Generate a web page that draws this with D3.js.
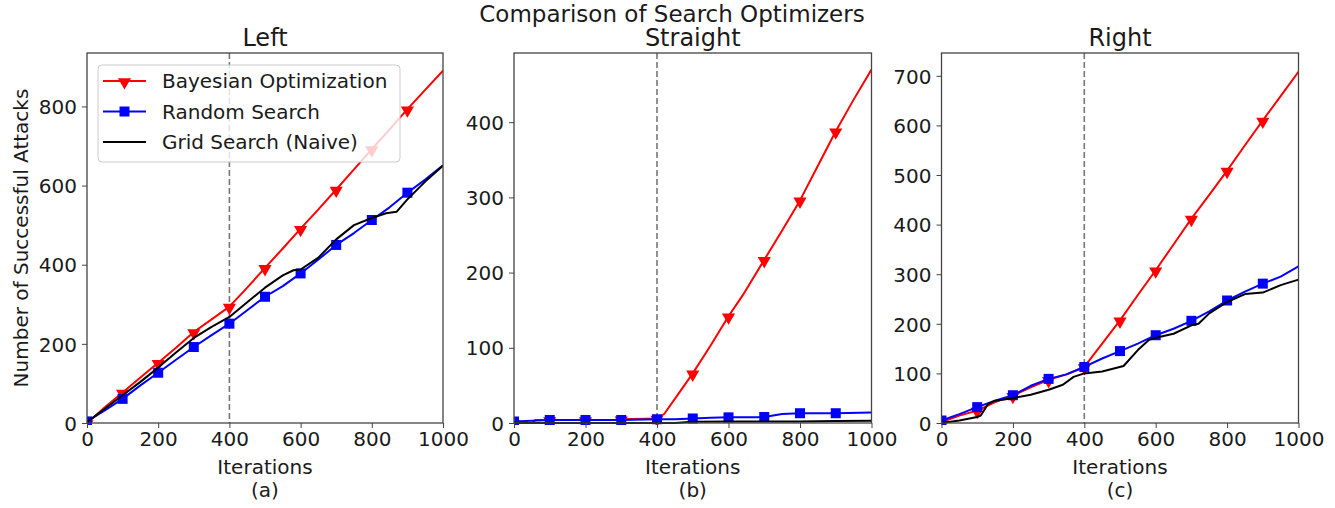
<!DOCTYPE html>
<html>
<head>
<meta charset="utf-8">
<title>Comparison of Search Optimizers</title>
<script src="https://d3js.org/d3.v7.min.js" charset="utf-8"></script>
<style>
  body { margin: 0; background: #fff; }
  svg { display: block; }
  text { font-family: "DejaVu Sans", sans-serif; fill: #1a1a1a; }
  .tick-label { font-size: 20px; }
  .axis-label { font-size: 20px; }
  .title { font-size: 24px; }
  .suptitle { font-size: 23px; }
  .legend-text { font-size: 20px; }
  .series { fill: none; stroke-width: 2px; stroke-linejoin: round; }
</style>
</head>
<body>
<div id="chart"></div>
<script>
// iteration / number of successful attacks
var leftBayes = [[0,0],[50,40],[100,77],[150,115],[200,152],[250,190],[300,230],[350,262],[400,294],[450,342],[500,392],[550,441],[600,491],[650,540],[700,590],[750,641],[800,692],[850,742],[900,793],[950,842],[1000,890]];
var leftRandom = [[0,4],[50,32],[100,61],[150,95],[200,127],[250,160],[300,192],[350,222],[400,251],[450,285],[500,319],[550,346],[600,378],[650,413],[700,450],[750,480],[800,513],[850,545],[900,582],[950,615],[1000,651]];
var leftGrid = [[0,2],[50,36],[100,70],[150,104],[200,140],[250,178],[300,215],[350,243],[400,268],[450,305],[500,342],[550,373],[580,386],[600,388],[650,418],[700,464],[750,500],[800,518],[840,530],[870,534],[900,565],[950,610],[1000,650]];

var midBayes = [[0,0],[50,0],[60,4],[100,4],[200,4],[280,4],[300,5],[400,6],[420,12],[450,32],[500,66],[550,103],[600,142],[640,170],[700,217],[750,256],[800,296],[850,342],[900,388],[950,430],[1000,470]];
var midRandom = [[0,2],[50,3],[100,4],[200,4],[300,4],[400,5],[450,5],[500,6],[550,7],[600,7.5],[680,7.5],[700,8],[750,12],[800,13],[900,13],[1000,14]];
var midGrid = [[0,0],[450,0],[480,1],[500,1.5],[600,2],[700,2],[800,2],[900,2.5],[1000,3]];

var rightBayes = [[0,2],[50,15],[100,25],[150,42],[200,55],[250,72],[300,87],[350,98],[400,113],[450,160],[500,207],[550,258],[600,308],[650,360],[700,412],[750,460],[800,509],[850,560],[900,610],[950,659],[1000,708]];
var rightRandom = [[0,5],[50,18],[100,32],[150,45],[200,56],[250,75],[300,89],[350,98],[400,113],[450,130],[500,145],[550,160],[600,177],[650,190],[700,206],[750,225],[800,247],[850,265],[900,281],[950,295],[1000,316]];
var rightGrid = [[0,0],[50,5],[100,12],[110,15],[130,38],[150,45],[200,50],[250,57],[300,67],[340,77],[370,93],[400,100],[450,104],[510,115],[550,147],[580,167],[600,172],[650,180],[700,197],[720,200],[750,221],[800,244],[850,260],[900,263],[950,278],[1000,289]];

var xTicks = [0, 200, 400, 600, 800, 1000];
var leftYTicks = [0, 200, 400, 600, 800];
var midYTicks = [0, 100, 200, 300, 400];
var rightYTicks = [0, 100, 200, 300, 400, 500, 600, 700];
var panelTitles = ['Left', 'Straight', 'Right'];
var panelTags = ['(a)', '(b)', '(c)'];
var seriesNames = ['Bayesian Optimization', 'Random Search', 'Grid Search (Naive)'];
var seriesColors = ['#ff0000', '#0000ff', '#000000'];
var splitAt = 400;

var W = 1335, H = 508;
var plotTop = 53, plotBottom = 423;

var panels = [
  {x0: 87, x1: 443, ymax: 935, yticks: leftYTicks, data: [leftBayes, leftRandom, leftGrid]},
  {x0: 514, x1: 871.5, ymax: 492, yticks: midYTicks, data: [midBayes, midRandom, midGrid]},
  {x0: 941.5, x1: 1298.5, ymax: 746, yticks: rightYTicks, data: [rightBayes, rightRandom, rightGrid]}
];

var svg = d3.select('#chart').append('svg').attr('width', W).attr('height', H);

svg.append('text').attr('class', 'suptitle')
  .attr('x', 672).attr('y', 22).attr('text-anchor', 'middle')
  .text('Comparison of Search Optimizers');

// marker shapes
var tri = d3.symbol().type(d3.symbolTriangle).size(75);
function drawMarker(g, kind, x, y, color) {
  if (kind === 0) {
    g.append('path').attr('d', tri()).attr('fill', color)
      .attr('transform', 'translate(' + x + ',' + (y + 1) + ') rotate(180)');
  } else if (kind === 1) {
    g.append('rect').attr('x', x - 5).attr('y', y - 5).attr('width', 10).attr('height', 10).attr('fill', color);
  }
}

panels.forEach(function(p, pi) {
  var x = d3.scaleLinear().domain([0, 1000]).range([p.x0, p.x1]);
  var y = d3.scaleLinear().domain([0, p.ymax]).range([plotBottom, plotTop]);
  var g = svg.append('g');
  var cx = (p.x0 + p.x1) / 2;

  // dashed split line
  g.append('line')
    .attr('x1', x(splitAt)).attr('x2', x(splitAt))
    .attr('y1', plotTop).attr('y2', plotBottom)
    .attr('stroke', '#777').attr('stroke-width', 1.6).attr('stroke-dasharray', '6,3');

  var line = d3.line().x(function(d) { return x(d[0]); }).y(function(d) { return y(d[1]); });

  var clip = 'clip' + pi;
  svg.append('clipPath').attr('id', clip).append('rect')
    .attr('x', p.x0).attr('y', plotTop).attr('width', p.x1 - p.x0).attr('height', plotBottom - plotTop + 2);

  p.data.forEach(function(s, si) {
    var sg = g.append('g').attr('clip-path', 'url(#' + clip + ')');
    sg.append('path').datum(s).attr('class', 'series')
      .attr('stroke', seriesColors[si]).attr('d', line);
    if (si < 2) {
      s.filter(function(d) { return d[0] % 100 === 0 && d[0] < 1000; })
        .forEach(function(d) { drawMarker(sg, si, x(d[0]), y(d[1]), seriesColors[si]); });
    }
  });

  // frame
  g.append('rect').attr('x', p.x0).attr('y', plotTop)
    .attr('width', p.x1 - p.x0).attr('height', plotBottom - plotTop)
    .attr('fill', 'none').attr('stroke', '#444').attr('stroke-width', 1.3);

  // axes
  var xa = g.append('g').attr('transform', 'translate(0,' + plotBottom + ')')
    .call(d3.axisBottom(x).tickValues(xTicks).tickSize(5).tickPadding(4).tickFormat(d3.format('d')));
  var ya = g.append('g').attr('transform', 'translate(' + p.x0 + ',0)')
    .call(d3.axisLeft(y).tickValues(p.yticks).tickSize(5).tickPadding(5).tickFormat(d3.format('d')));
  [xa, ya].forEach(function(a) {
    a.select('.domain').remove();
    a.selectAll('line').attr('stroke', '#444');
    a.selectAll('text').attr('class', 'tick-label').attr('fill', '#1a1a1a')
      .style('font-size', '20px').style('font-family', '"DejaVu Sans", sans-serif');
  });
  ya.selectAll('text').attr('dy', '0.36em');

  g.append('text').attr('class', 'title').attr('x', cx).attr('y', 46)
    .attr('text-anchor', 'middle').text(panelTitles[pi]);
  g.append('text').attr('class', 'axis-label').attr('x', cx).attr('y', 474)
    .attr('text-anchor', 'middle').text('Iterations');
  g.append('text').attr('class', 'axis-label').attr('x', cx).attr('y', 497)
    .attr('text-anchor', 'middle').text(panelTags[pi]);
});

svg.append('text').attr('class', 'axis-label')
  .attr('transform', 'translate(28,' + (plotTop + plotBottom) / 2 + ') rotate(-90)')
  .attr('text-anchor', 'middle').text('Number of Successful Attacks');

// legend in the left panel
var lg = svg.append('g');
lg.append('rect').attr('x', 98).attr('y', 65).attr('width', 302).attr('height', 97).attr('rx', 4)
  .attr('fill', '#fff').attr('fill-opacity', 0.8).attr('stroke', '#ccc');
seriesNames.forEach(function(name, i) {
  var ly = 81 + i * 30.5;
  lg.append('line').attr('x1', 103).attr('x2', 146).attr('y1', ly).attr('y2', ly)
    .attr('stroke', seriesColors[i]).attr('stroke-width', 2);
  drawMarker(lg, i, 124.5, ly, seriesColors[i]);
  lg.append('text').attr('class', 'legend-text').attr('x', 162).attr('y', ly + 7).text(name);
});
</script>
</body>
</html>
